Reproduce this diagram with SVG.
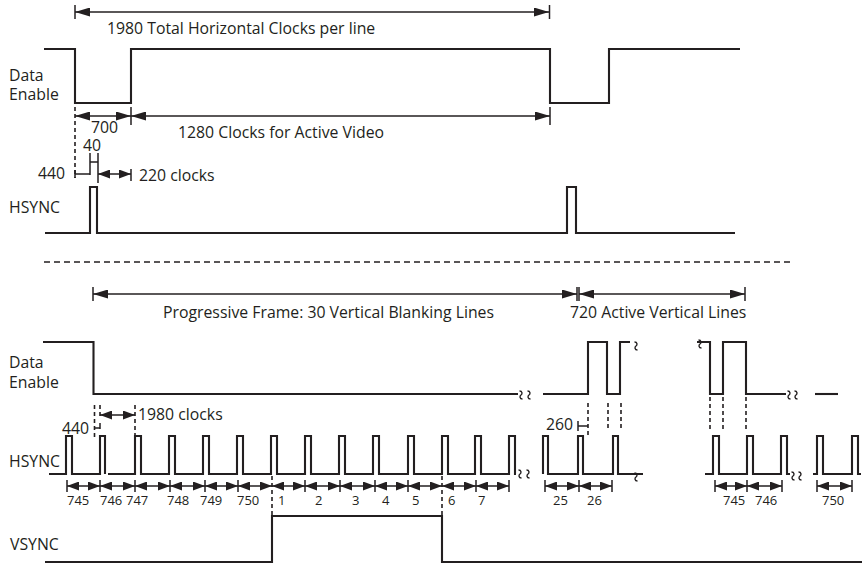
<svg xmlns="http://www.w3.org/2000/svg" xmlns:xlink="http://www.w3.org/1999/xlink" width="865" height="572" viewBox="0 0 865 572">
<style>
text{font-family:"Open Sans","Liberation Sans",sans-serif;font-size:15.8px;fill:#231f20}
.sm{font-size:13px}
.w{fill:none;stroke:#231f20;stroke-width:2.1;stroke-linejoin:miter}
.d{fill:none;stroke:#231f20;stroke-width:1.5}
.dd{fill:none;stroke:#231f20;stroke-width:1.6;stroke-dasharray:4 3}
.sep{fill:none;stroke:#231f20;stroke-width:1.5;stroke-dasharray:6 4}
.big{marker-start:url(#ah);marker-end:url(#ah)}
.small{marker-start:url(#as);marker-end:url(#as)}
.sq{fill:none;stroke:#231f20;stroke-width:1.4}
</style>
<defs>
<marker id="ah" viewBox="0 0 15 9" refX="15" refY="4.5" markerWidth="15" markerHeight="9" markerUnits="userSpaceOnUse" orient="auto-start-reverse"><path d="M0,0 L15,4.5 L0,9 z" fill="#231f20"/></marker>
<marker id="as" viewBox="0 0 12 9" refX="12" refY="4.5" markerWidth="12" markerHeight="9" markerUnits="userSpaceOnUse" orient="auto-start-reverse"><path d="M0,0 L12,4.5 L0,9 z" fill="#231f20"/></marker>
<path id="sq" class="sq" d="M-1.5,-4 C1.5,-4 1.5,-1 0,0 C-1.5,1 -1.5,4 1.5,4"/>
</defs>

<g id="labels">
<text x="9" y="81">Data</text>
<text x="9" y="100">Enable</text>
<text x="9" y="213">HSYNC</text>
<text x="9" y="368">Data</text>
<text x="9" y="388">Enable</text>
<text x="9" y="467">HSYNC</text>
<text x="10" y="550">VSYNC</text>
</g>

<g id="top-de">
<path class="w" d="M44,49 H75 V103 H131 V49 H550 V103 H609 V49 H740"/>
</g>
<g id="top-hsync">
<path class="w" d="M45,233 H90 V187 H97 V233 H567 V187 H576 V233 H735"/>
</g>

<g id="top-dimensions">
<line class="d big" x1="75" y1="12" x2="549" y2="12"/>
<line class="d" x1="75" y1="5" x2="75" y2="19"/>
<line class="d" x1="549.5" y1="5" x2="549.5" y2="19"/>
<text x="107" y="34">1980 Total Horizontal Clocks per line</text>
<line class="d big" x1="75" y1="116" x2="131" y2="116"/>
<line class="d big" x1="131" y1="116" x2="550" y2="116"/>
<line class="d" x1="131" y1="107" x2="131" y2="125"/>
<line class="d" x1="550" y1="107" x2="550" y2="125"/>
<line class="dd" x1="75" y1="107" x2="75" y2="178"/>
<text x="91" y="133">700</text>
<text x="178" y="137.5">1280 Clocks for Active Video</text>
<text x="83" y="150.5">40</text>
<path class="d" d="M90,153 V175 M98,153 V183 M90,162 H98 M75,170 V178 M75,174 H90"/>
<text x="38" y="178.5">440</text>
<line class="d small" x1="98" y1="174" x2="131" y2="174"/>
<line class="d" x1="131" y1="169" x2="131" y2="181"/>
<text x="139" y="181">220 clocks</text>
</g>

<line id="separator" class="sep" x1="44" y1="262" x2="790" y2="262"/>

<g id="bottom-dimensions">
<line class="d big" x1="93" y1="294" x2="577" y2="294"/>
<line class="d" x1="93" y1="287" x2="93" y2="301"/>
<line class="d" x1="577" y1="287" x2="577" y2="301"/>
<text x="163" y="318">Progressive Frame: 30 Vertical Blanking Lines</text>
<line class="d big" x1="579" y1="294" x2="745" y2="294"/>
<line class="d" x1="579" y1="287" x2="579" y2="301"/>
<line class="d" x1="745" y1="287" x2="745" y2="301"/>
<text x="570" y="318">720 Active Vertical Lines</text>
</g>

<g id="bottom-de">
<path class="w" d="M43,342 H93.5 V394 H518"/>
<use href="#sq" x="521" y="395"/>
<use href="#sq" x="529" y="395"/>
<path class="w" d="M543,394 H588 V342 H607 V394 H620 V342 H630"/>
<use href="#sq" x="636" y="346"/>
<use href="#sq" x="700" y="344"/>
<path class="w" d="M697,342 H710 V394 H723 V342 H746 V394 H786"/>
<use href="#sq" x="789" y="395"/>
<use href="#sq" x="796" y="395"/>
<path class="w" d="M815,394 H838"/>
</g>

<g id="bottom-markers">
<line class="dd" x1="94.5" y1="405" x2="94.5" y2="438"/>
<line class="dd" x1="100" y1="405" x2="100" y2="418"/>
<line class="dd" x1="135" y1="405" x2="135" y2="440"/>
<line class="d small" x1="100" y1="415" x2="135" y2="415"/>
<text x="138" y="420">1980 clocks</text>
<text x="62" y="434">440</text>
<path class="d" d="M95,428 H100 M100,423 V429"/>
<line class="dd" x1="588" y1="403" x2="588" y2="438"/>
<line class="dd" x1="608" y1="403" x2="608" y2="430"/>
<line class="dd" x1="621" y1="403" x2="621" y2="430"/>
<text x="546" y="430">260</text>
<path class="d" d="M578,421 V431 M578,426 H588"/>
<line class="dd" x1="710" y1="397" x2="710" y2="430"/>
<line class="dd" x1="723" y1="397" x2="723" y2="432"/>
<line class="dd" x1="746" y1="397" x2="746" y2="432"/>
<line class="dd" x1="272" y1="476" x2="272" y2="516"/>
<line class="dd" x1="442" y1="476" x2="442" y2="516"/>
</g>

<g id="bottom-hsync">
<path class="w" d="M49,474 H66 V436 H72 V474 H100 V436 H105 V474 M108,474 H135 V436 H141 V474 H169 V436 H175 V474 H203 V436 H209 V474 H237 V436 H243 V474 H271 V436 H277 V474 H305 V436 H311 V474 H339 V436 H345 V474 H373 V436 H379 V474 H408 V436 H414 V474 H442 V436 H448 V474 H475 V436 H481 V474 H509 V436 H515 V474 H516"/>
<use href="#sq" x="520" y="474"/>
<use href="#sq" x="528" y="474"/>
<path class="w" d="M543,474 V436 H548 V474 H578 V436 H583 V474 H613 V436 H618 V474 H643"/>
<use href="#sq" x="636" y="477"/>
<path class="w" d="M705,474 H713 V436 H719 V474 H747 V436 H753 V474 H781 V436 H787 V474 H790"/>
<use href="#sq" x="793" y="476"/>
<use href="#sq" x="800" y="476"/>
<path class="w" d="M813,474 H817 V436 H823 V474 H852 V436 H858 V474 H861"/>
</g>

<g id="line-counts">
<g class="d small">
<line x1="67" y1="486" x2="100" y2="486"/>
<line x1="100" y1="486" x2="135" y2="486"/>
<line x1="135" y1="486" x2="170" y2="486"/>
<line x1="170" y1="486" x2="205" y2="486"/>
<line x1="205" y1="486" x2="238" y2="486"/>
<line x1="238" y1="486" x2="272" y2="486"/>
<line x1="272" y1="486" x2="305" y2="486"/>
<line x1="305" y1="486" x2="340" y2="486"/>
<line x1="340" y1="486" x2="375" y2="486"/>
<line x1="375" y1="486" x2="408" y2="486"/>
<line x1="408" y1="486" x2="442" y2="486"/>
<line x1="442" y1="486" x2="476" y2="486"/>
<line x1="476" y1="486" x2="509" y2="486"/>
<line x1="545" y1="486" x2="579" y2="486"/>
<line x1="579" y1="486" x2="612" y2="486"/>
<line x1="715" y1="486" x2="747" y2="486"/>
<line x1="747" y1="486" x2="782" y2="486"/>
<line x1="817" y1="486" x2="852" y2="486"/>
</g>
<path class="d" d="M67,480 V492 M100,480 V492 M135,480 V492 M170,480 V492 M205,480 V492 M238,480 V492 M305,480 V492 M340,480 V492 M375,480 V492 M408,480 V492 M476,480 V492 M509,480 V492 M545,480 V492 M579,480 V492 M612,480 V492 M715,480 V492 M747,480 V492 M782,480 V492 M817,480 V492 M852,480 V492"/>
<text class="sm" x="67" y="505">745</text>
<text class="sm" x="100" y="505">746</text>
<text class="sm" x="126" y="505">747</text>
<text class="sm" x="167" y="505">748</text>
<text class="sm" x="200" y="505">749</text>
<text class="sm" x="237" y="505">750</text>
<text class="sm" x="278" y="505">1</text>
<text class="sm" x="315" y="505">2</text>
<text class="sm" x="352" y="505">3</text>
<text class="sm" x="382" y="505">4</text>
<text class="sm" x="412" y="505">5</text>
<text class="sm" x="448" y="505">6</text>
<text class="sm" x="478" y="505">7</text>
<text class="sm" x="553" y="505">25</text>
<text class="sm" x="587" y="505">26</text>
<text class="sm" x="723" y="505">745</text>
<text class="sm" x="755" y="505">746</text>
<text class="sm" x="822" y="505">750</text>
</g>

<g id="vsync">
<path class="w" d="M45,562 H272 V516 H442 V562 H862"/>
</g>
</svg>
